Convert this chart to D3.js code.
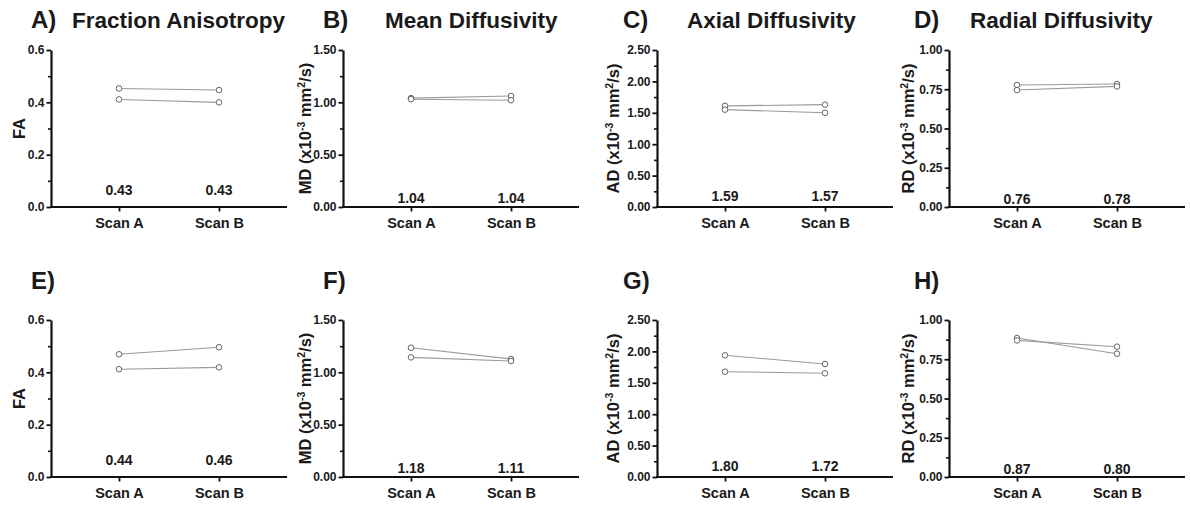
<!DOCTYPE html>
<html>
<head>
<meta charset="utf-8">
<script src="https://cdn.jsdelivr.net/npm/d3@7"></script>
<style>
body { margin:0; background:#fff; }
svg text { font-family:"Liberation Sans", Arial, sans-serif; font-weight:bold; fill:#1a1a1a; }
</style>
</head>
<body>
<div class="top"></div>
<script>
// data
const scans = ['Scan A','Scan B'];
const letters = ['A)','B)','C)','D)','E)','F)','G)','H)'];
const titles = ['Fraction Anisotropy','Mean Diffusivity','Axial Diffusivity','Radial Diffusivity','','','',''];
const measures = ['FA','MD','AD','RD','FA','MD','AD','RD'];
const yMax = [0.6,1.5,2.5,1.0,0.6,1.5,2.5,1.0];
const majorTicks = [
	[0,0.2,0.4,0.6],[0,0.5,1,1.5],[0,0.5,1,1.5,2,2.5],[0,0.25,0.5,0.75,1],
	[0,0.2,0.4,0.6],[0,0.5,1,1.5],[0,0.5,1,1.5,2,2.5],[0,0.25,0.5,0.75,1]
];
const minorTicks = [
	[0.1,0.3,0.5],[0.25,0.75,1.25],[0.25,0.75,1.25,1.75,2.25],[0.125,0.375,0.625,0.875],
	[0.1,0.3,0.5],[0.25,0.75,1.25],[0.25,0.75,1.25,1.75,2.25],[0.125,0.375,0.625,0.875]
];
// two subjects per panel: [scan A, scan B]
const subjects = [
	[[0.453,0.447],[0.411,0.400]],
	[[1.04,1.06],[1.03,1.02]],
	[[1.61,1.63],[1.55,1.50]],
	[[0.777,0.783],[0.745,0.768]],
	[[0.469,0.496],[0.412,0.419]],
	[[1.235,1.127],[1.143,1.108]],
	[[1.938,1.799],[1.677,1.651]],
	[[0.885,0.785],[0.870,0.830]]
];
const means = [
	['0.43','0.43'],['1.04','1.04'],['1.59','1.57'],['0.76','0.78'],
	['0.44','0.46'],['1.18','1.11'],['1.80','1.72'],['0.87','0.80']
];

// layout
const W = 1190, H = 519;
const colX = [51,343,657,949];
const rowTop = [50,320];
const axisH = 157, axisW = 236;
const letterX = [31,323,623,914];
const titleX = [72,385,687,970];
const titleBase = [28,289];
const labelOff = [32,38,44,41];
const meanOff = [17.5,9,11.5,8];

const panels = letters.map((l,i)=>({i:i, col:i%4, row:Math.floor(i/4)}));

const svg = d3.select('.top')
	.selectChildren('svg').data([1])
		.join('svg')
			.attr('width',W)
			.attr('height',H);

svg.selectChildren('.panel').data(panels)
	.join('g').attr('class','panel')
		.call(sel=>{

			sel.each(function(p){
				const g = d3.select(this);
				const x0 = colX[p.col], y0 = rowTop[p.row];
				const fmt = p.col==0 ? d3.format('.1f') : d3.format('.2f');

				const x = d3.scalePoint().domain(scans).range([x0, x0+axisW]).padding(0.68);
				const y = d3.scaleLinear().domain([0,yMax[p.i]]).range([y0+axisH, y0]);

				// titles
				g.selectChildren('.letter').data([letters[p.i]])
					.join('text').attr('class','letter')
						.attr('x',letterX[p.col])
						.attr('y',titleBase[p.row])
						.style('font-size','24px')
						.text(d=>d);

				g.selectChildren('.title').data([titles[p.i]])
					.join('text').attr('class','title')
						.attr('x',titleX[p.col])
						.attr('y',titleBase[p.row])
						.style('font-size','22.5px')
						.text(d=>d);

				// minor ticks
				g.selectChildren('.yminor').data([1])
					.join('g').attr('class','yminor')
						.attr('transform',`translate(${x0},0)`)
						.call(d3.axisLeft(y).tickValues(minorTicks[p.i]).tickSize(3).tickFormat(''))
						.call(a=>a.select('.domain').remove())
						.call(a=>a.selectAll('line').attr('stroke','#111').attr('stroke-width',1.6));

				// y axis
				g.selectChildren('.yaxis').data([1])
					.join('g').attr('class','yaxis')
						.attr('transform',`translate(${x0},0)`)
						.call(d3.axisLeft(y).tickValues(majorTicks[p.i]).tickSize(4.5).tickSizeOuter(0).tickPadding(2).tickFormat(fmt))
						.call(a=>a.select('.domain').attr('stroke','#111').attr('stroke-width',2.2))
						.call(a=>a.selectAll('line').attr('stroke','#111').attr('stroke-width',1.8))
						.call(a=>a.selectAll('text').attr('font-size',null).style('font-size','12px').style('font-family',null));

				// x axis
				g.selectChildren('.xaxis').data([1])
					.join('g').attr('class','xaxis')
						.attr('transform',`translate(0,${y0+axisH})`)
						.call(d3.axisBottom(x).tickSize(4.5).tickSizeOuter(0).tickPadding(6))
						.call(a=>a.select('.domain').attr('stroke','#111').attr('stroke-width',2.2)
							.attr('d',`M${x0-1},0H${x0+axisW}`))
						.call(a=>a.selectAll('line').attr('stroke','#111').attr('stroke-width',1.8))
						.call(a=>a.selectAll('text').attr('font-size',null).style('font-size','14.5px').style('font-family',null));

				// y label
				const lx = x0 - labelOff[p.col], ly = y0 + axisH/2;
				g.selectChildren('.ylabel').data([measures[p.i]])
					.join('text').attr('class','ylabel')
						.attr('transform',`translate(${lx+6},${ly}) rotate(-90)`)
						.attr('text-anchor','middle')
						.style('font-size','16.5px')
						.call(t=>{
							if (p.col==0) { t.text(d=>d); return; }
							t.text(null);
							t.append('tspan').text(d=>d+' (x10');
							t.append('tspan').attr('dy',-6).style('font-size','10.5px').text('-3');
							t.append('tspan').attr('dy',6).text(' mm');
							t.append('tspan').attr('dy',-6).style('font-size','10.5px').text('2');
							t.append('tspan').attr('dy',6).text('/s)');
						});

				// subject lines
				g.selectChildren('.subj').data(subjects[p.i])
					.join('path').attr('class','subj')
						.attr('fill','none')
						.attr('stroke','#9a9a9a')
						.attr('stroke-width',1.1)
						.attr('d',d=>d3.line().x((v,k)=>x(scans[k])).y(v=>y(v))(d));

				g.selectChildren('.pt').data(subjects[p.i].flatMap(d=>d.map((v,k)=>({v:v,k:k}))))
					.join('circle').attr('class','pt')
						.attr('cx',d=>x(scans[d.k]))
						.attr('cy',d=>y(d.v))
						.attr('r',2.8)
						.attr('fill','#fff')
						.attr('stroke','#666')
						.attr('stroke-width',1);

				// mean labels
				g.selectChildren('.mean').data(means[p.i])
					.join('text').attr('class','mean')
						.attr('x',(d,k)=>x(scans[k]))
						.attr('y',y0+axisH-meanOff[p.col]+5)
						.attr('text-anchor','middle')
						.style('font-size','14px')
						.text(d=>d);
			});

		});
</script>
</body>
</html>
